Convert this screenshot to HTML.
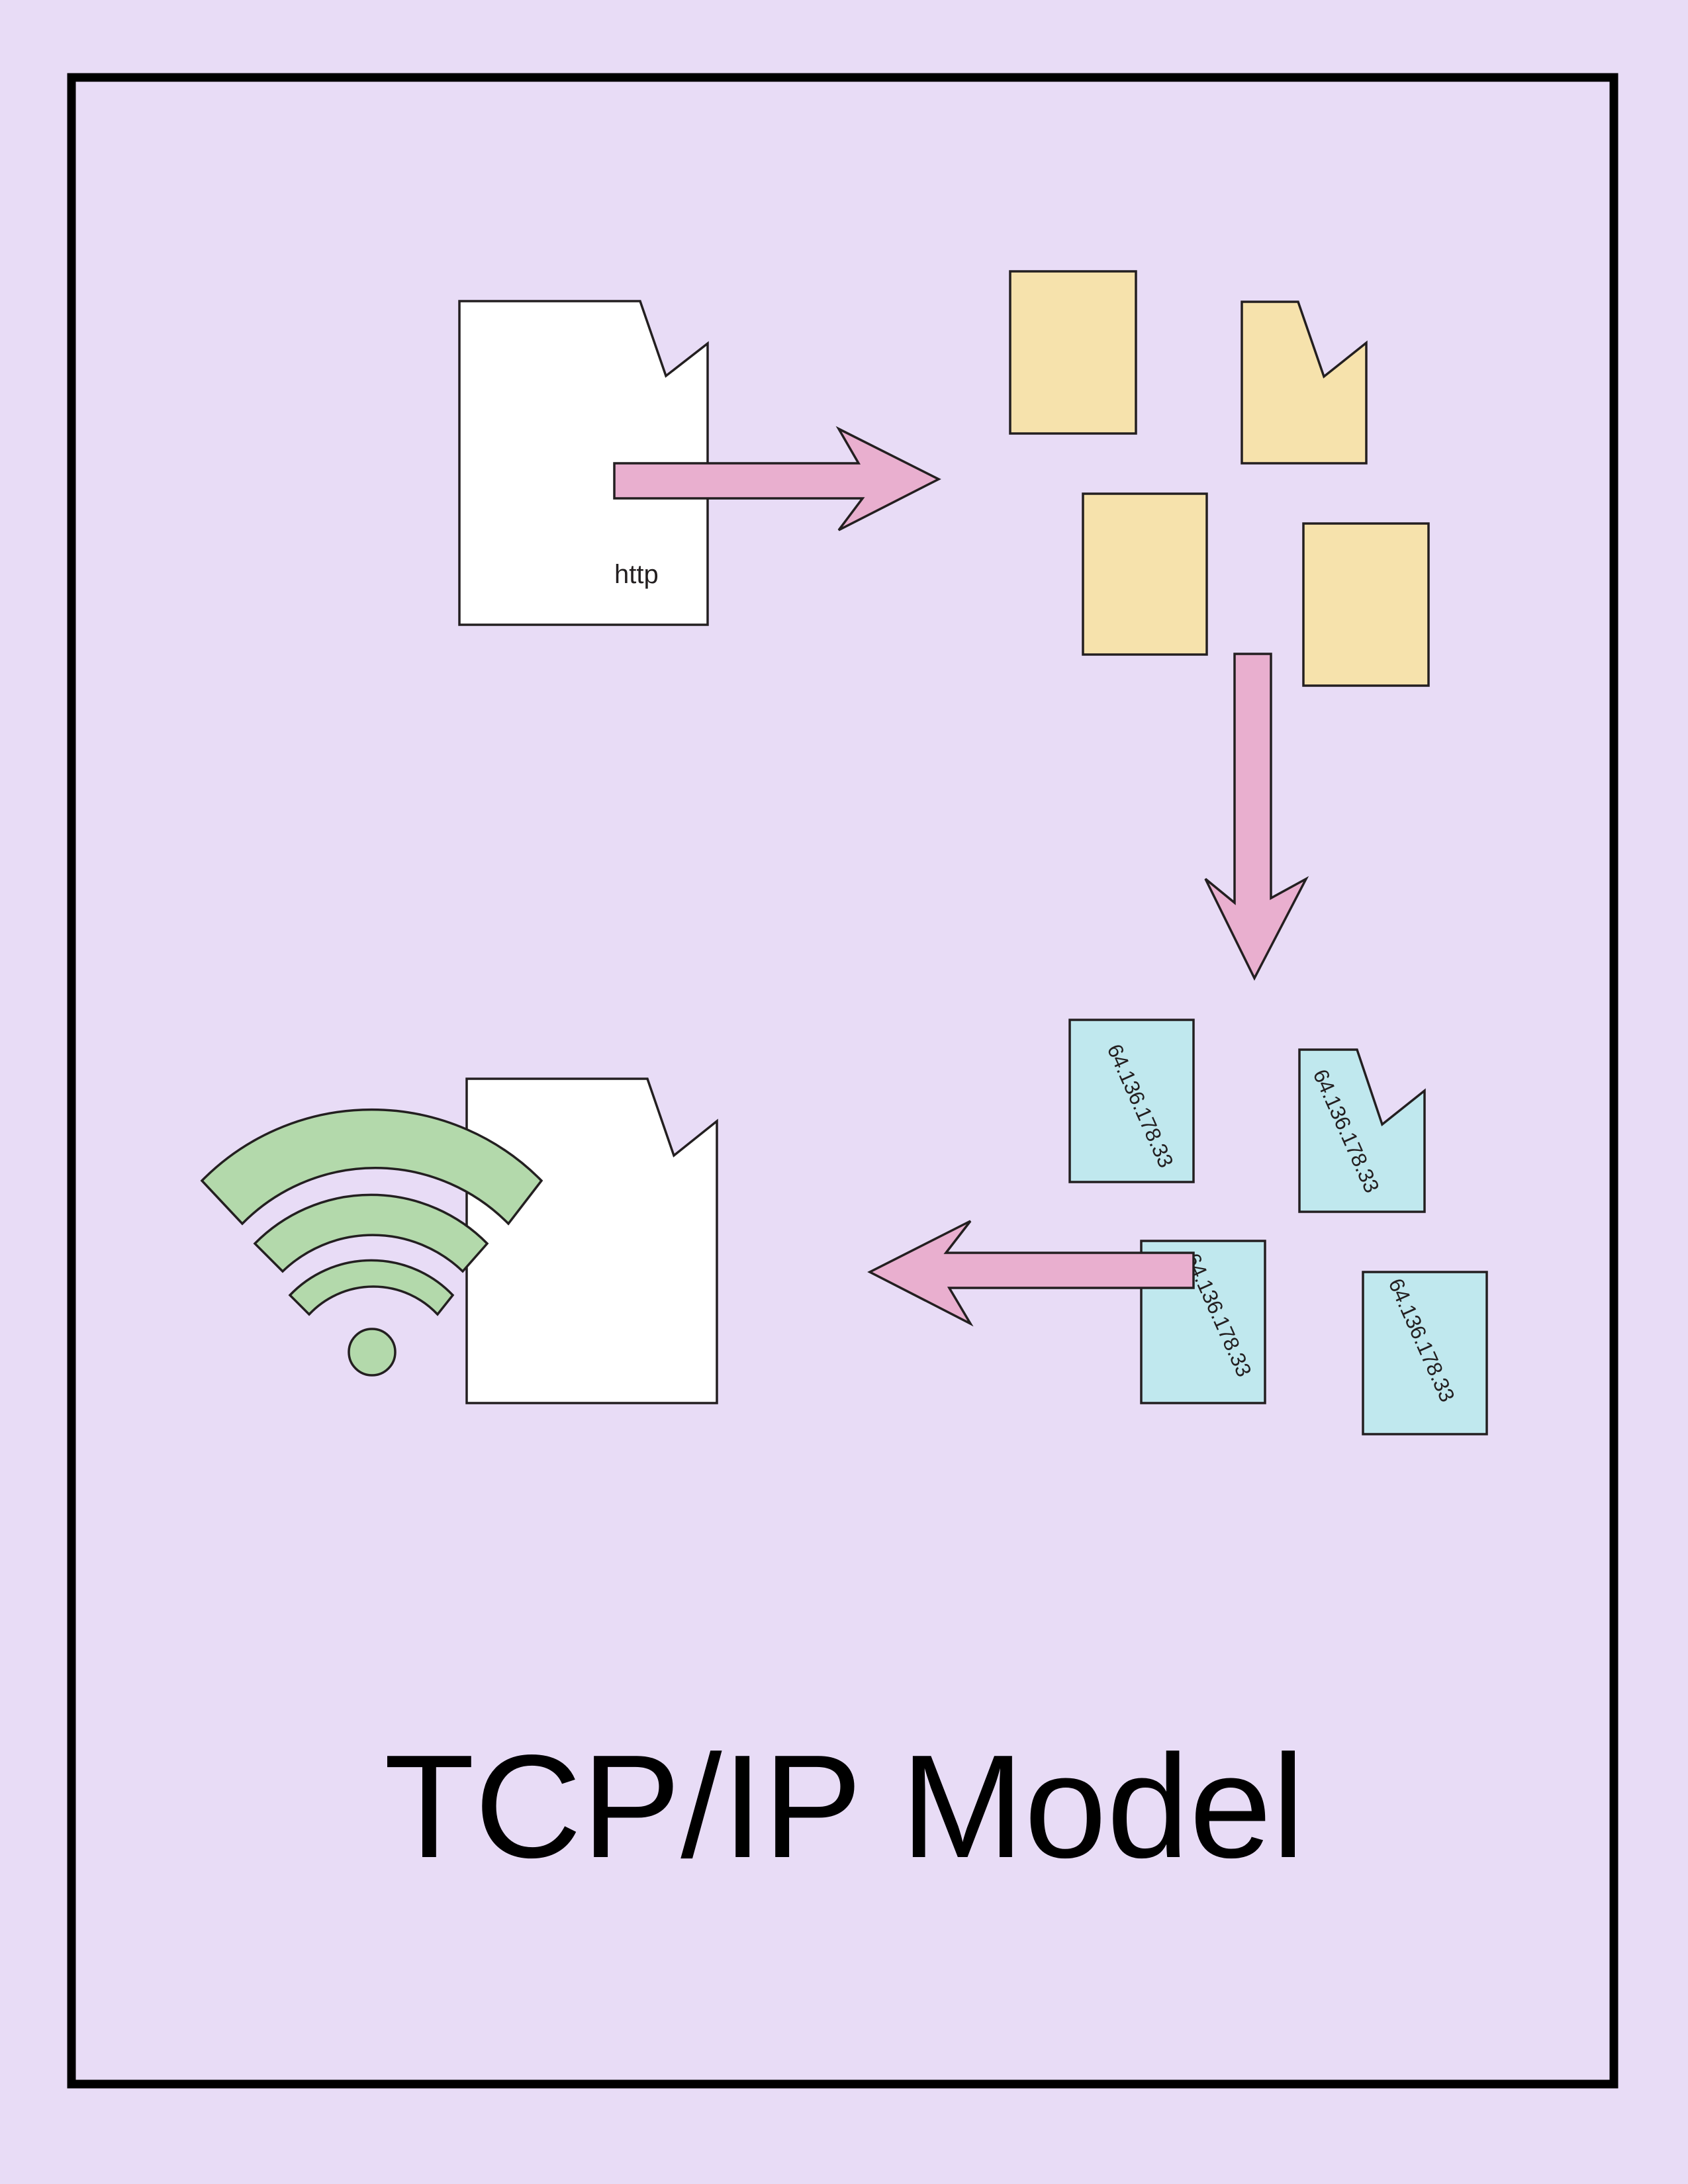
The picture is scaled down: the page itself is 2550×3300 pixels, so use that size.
<!DOCTYPE html>
<html><head><meta charset="utf-8"><style>
html,body{margin:0;padding:0;background:#e8dcf6;}
svg{display:block;}
</style></head><body>
<svg width="2550" height="3300" viewBox="0 0 2550 3300" xmlns="http://www.w3.org/2000/svg">
<rect width="2550" height="3300" fill="#e8dcf6"/>
<rect x="108" y="117" width="2330" height="3032" fill="none" stroke="#000" stroke-width="13"/>
<g stroke="#231f20" stroke-width="3.5" stroke-linejoin="miter">
<path d="M694 455 H967 L1006 568 L1069 519 V944 H694 Z" fill="#fff"/>
<text x="928" y="881" font-family="Liberation Sans, sans-serif" font-size="40" fill="#231f20" stroke="none">http</text>
<path d="M928 700 H1297 L1267 648 L1418 724 L1267 801 L1303 753 H928 Z" fill="#e9afcf"/>
<rect x="1526" y="410" width="190" height="245" fill="#f6e2ac"/>
<path d="M1876 456 H1961 L2000 569 L2064 518 V700 H1876 Z" fill="#f6e2ac"/>
<rect x="1636" y="746" width="187" height="243" fill="#f6e2ac"/>
<rect x="1969" y="791" width="189" height="245" fill="#f6e2ac"/>
<path d="M1865 988 H1920 V1357 L1973 1328 L1895 1478 L1821 1328 L1865 1364 Z" fill="#e9afcf"/>
<rect x="1616" y="1541" width="187" height="245" fill="#c0e8ee"/>
<path d="M1963 1586 H2050 L2088 1699 L2152 1648 V1831 H1963 Z" fill="#c0e8ee"/>
<rect x="1724" y="1875" width="187" height="245" fill="#c0e8ee"/>
<rect x="2059" y="1922" width="187" height="245" fill="#c0e8ee"/>
</g>
<g font-family="Liberation Sans, sans-serif" font-size="32" fill="#231f20">
<text transform="translate(1672,1584) rotate(66)" textLength="200">64.136.178.33</text>
<text transform="translate(1983,1622) rotate(66)" textLength="200">64.136.178.33</text>
<text transform="translate(1790,1900) rotate(66)" textLength="200">64.136.178.33</text>
<text transform="translate(2097,1938) rotate(66)" textLength="200">64.136.178.33</text>
</g>
<g stroke="#231f20" stroke-width="3.5">
<path d="M1803 1893 H1429 L1466 1845 L1314 1922 L1466 2000 L1434 1946 H1803 Z" fill="#e9afcf"/>
<path d="M705 1630 H978 L1018 1746 L1083 1694 V2120 H705 Z" fill="#fff"/>
<g fill="#b3d9ab">
<path d="M305 1784 A360 360 0 0 1 818 1784 L768 1849 A282 282 0 0 0 366 1849 Z"/>
<path d="M385 1879 A246 246 0 0 1 736 1879 L699 1921 A196 196 0 0 0 427 1921 Z"/>
<path d="M438 1957 A170 170 0 0 1 684 1957 L661 1986 A133 133 0 0 0 467 1986 Z"/>
<circle cx="562" cy="2043" r="35"/>
</g>
</g>
<text x="580" y="2806" font-family="Liberation Sans, sans-serif" font-size="222" fill="#000" textLength="1391" lengthAdjust="spacingAndGlyphs">TCP/IP Model</text>
</svg>
</body></html>
